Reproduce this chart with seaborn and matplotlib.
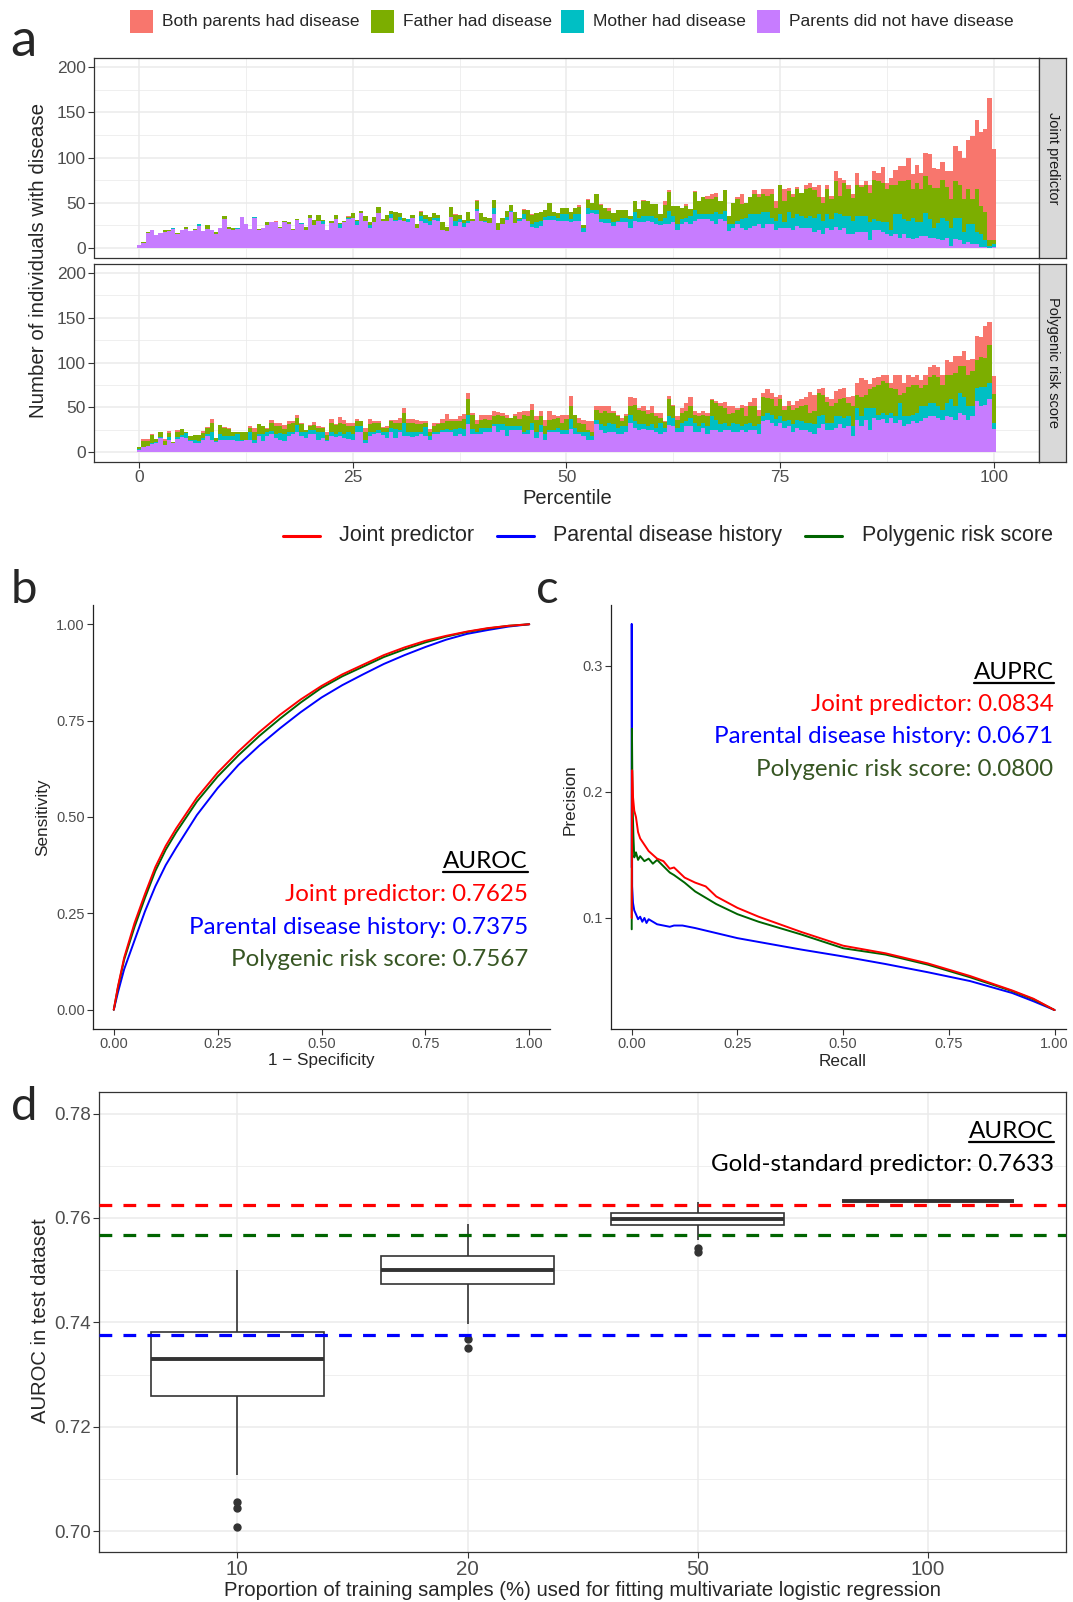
import numpy as np
import pandas as pd
import matplotlib
matplotlib.use("Agg")
import matplotlib.pyplot as plt
from matplotlib.lines import Line2D
from matplotlib.patches import Rectangle
import seaborn as sns

# ---------------- DATA ----------------
groups = ["Both parents had disease", "Father had disease", "Mother had disease", "Parents did not have disease"]
group_colors = ["#F8766D", "#7CAE00", "#00BFC4", "#C77CFF"]
facets = ["Joint predictor", "Polygenic risk score"]
pct_step = 0.5  # percentile bin width

jp_none = [3,5,16,20,14,16,17,18,21,15, 19,21,18,20,24,18,21,20,15,22, 32,21,20,21,34,26,21,33,20,22,
           25,28,28,22,28,26,20,31,26,20, 33,25,30,26,20,27,32,22,28,32, 33,25,38,30,22,28,38,29,29,33,
           29,31,30,28,33,22,30,27,25,31, 29,20,18,34,24,28,23,27,29,41, 30,28,27,37,19,26,31,39,27,29,
           32,30,23,22,24,31,31,31,30,30, 30,28,30,30,17,37,38,37,28,27, 27,24,28,28,28,22,29,28,28,30,
           28,26,25,26,26,28,20,26,28,26, 30,32,32,32,30,26,32,30,18,22, 26,22,20,22,24,26,22,26,26,20,
           22,22,22,20,24,22,22,22,17,20, 15,22,20,23,19,22,15,15,17,17, 17,8,19,19,17,15,13,15,11,15,
           11,9,11,13,13,11,11,9,8,11, 2,9,8,4,6,4,4,1,1,0, 1]
jp_mother = [0,0,0,0,0,0,0,0,1,0, 0,0,0,0,2,0,0,0,0,0, 0,0,0,1,0,0,0,1,0,0,
             0,0,0,0,0,0,0,0,1,0, 0,0,0,4,0,0,0,4,0,1, 0,5,0,0,3,0,0,0,1,4,
             2,3,0,4,0,0,5,5,5,2, 4,0,0,0,5,4,4,3,1,2, 0,2,0,7,0,0,3,2,0,3,
             5,0,3,6,6,3,4,4,3,7, 7,4,7,7,5,7,4,5,4,5, 5,4,2,5,5,10,10,5,7,5,
             7,7,5,7,15,7,6,6,5,9, 12,5,5,5,7,13,5,11,8,4, 4,10,13,15,13,11,17,13,7,10,
             15,6,17,13,13,13,11,13,16,17, 15,15,12,15,18,13,20,15,18,18, 18,20,13,11,11,13,6,22,26,17,
             19,24,17,15,25,21,11,18,25,19, 20,24,25,13,20,22,13,14,7,2, 3]
jp_father = [0,1,1,0,0,0,2,1,0,1, 0,2,0,1,0,0,4,0,2,0, 3,2,2,0,0,0,0,0,1,0,
             3,0,0,1,2,2,1,1,0,3, 3,6,6,1,0,2,4,1,1,1, 5,1,3,5,3,6,7,3,6,4,
             9,4,3,0,3,4,5,4,4,5, 3,8,5,11,7,4,4,10,2,9, 8,4,6,9,8,7,7,6,12,1,
             5,12,10,10,10,8,14,5,5,7, 7,7,7,8,3,9,8,17,15,12, 9,10,12,9,9,3,13,10,17,17,
             13,15,7,14,21,11,20,12,13,8, 20,15,19,17,17,17,15,23,9,24, 24,16,17,19,22,19,20,18,26,14,
             32,24,24,23,28,26,32,31,31,19, 20,28,22,36,20,37,30,25,35,32, 35,33,43,44,44,37,51,33,37,42,
             45,32,44,37,42,38,44,39,42,37, 32,41,36,37,39,28,48,31,31,6, 4]
jp_both = [0,0,0,0,0,0,0,0,0,0, 0,0,0,0,0,0,0,0,0,0, 0,0,0,0,0,0,0,0,0,0,
           0,0,1,0,0,0,0,0,0,0, 0,0,0,0,0,0,0,0,0,1, 0,0,0,0,0,0,0,0,0,0,
           0,0,0,0,0,0,1,0,0,0, 0,0,0,0,1,0,0,0,0,1, 0,0,0,0,0,0,0,0,0,0,
           1,0,1,0,0,0,0,0,0,0, 0,0,0,2,0,1,0,0,1,0, 3,0,0,0,0,0,0,0,1,0,
           0,0,0,5,2,0,0,0,2,0, 1,0,0,3,5,5,0,0,0,0, 2,11,0,0,5,3,6,8,6,8,
           1,13,3,3,2,0,4,6,3,13, 6,5,3,11,20,3,5,5,13,2, 4,9,10,9,18,7,7,16,17,17,
           24,17,20,18,25,34,22,21,20,18, 31,39,38,46,54,70,77,82,93,158, 101]

prs_none = [2,6,7,9,10,16,8,14,10,15, 17,16,12,10,10,14,18,13,11,14, 13,13,13,12,12,14,14,10,18,12,
            18,20,16,14,12,18,20,22,18,16, 20,20,14,16,12,18,17,18,16,15, 13,22,22,10,18,20,21,19,16,23,
            16,22,18,18,17,18,20,18,14,20, 20,22,23,22,18,20,18,31,20,20, 20,22,23,29,23,25,18,25,25,25,
            20,20,25,16,23,14,22,22,23,20, 20,26,20,20,18,14,14,31,25,21, 22,22,20,20,22,33,27,25,26,25,
            25,22,20,22,30,29,22,23,29,29, 22,22,27,20,25,25,22,25,25,23, 23,25,23,25,25,20,35,36,33,29,
            33,27,29,23,27,25,25,22,20,27, 31,25,25,27,31,27,29,18,36,29, 36,25,38,36,37,33,38,33,36,29,
            31,35,33,35,38,40,40,38,36,40, 39,36,44,42,36,40,57,51,53,59, 26]
prs_mother = [1,0,0,1,1,1,0,3,0,2, 2,5,2,4,2,2,2,9,1,6, 5,5,5,8,2,0,8,4,2,8,
              4,4,4,7,8,4,3,8,4,6, 5,5,8,6,2,5,3,4,4,7, 7,7,7,4,5,3,4,3,6,4,
              10,3,15,5,5,4,2,10,4,2, 2,3,3,3,8,7,8,11,6,3, 7,5,4,2,8,6,11,4,4,4,
              3,5,8,7,7,6,3,3,4,5, 5,11,7,3,4,8,4,5,6,8, 11,9,7,9,7,8,8,6,5,4,
              6,5,12,5,10,9,5,10,6,9, 11,7,6,9,15,11,9,8,4,10, 8,4,8,8,4,11,5,8,9,8,
              7,8,7,8,9,10,8,10,11,13, 11,8,8,13,9,11,11,11,13,11, 13,24,11,6,7,9,6,7,19,11,
              9,7,11,16,13,15,15,13,11,15, 20,15,22,20,15,11,15,22,20,18, 7]
prs_father = [3,6,5,9,4,5,4,4,1,6, 7,1,4,5,7,5,7,11,4,10, 9,8,4,3,8,9,5,9,11,9,
              4,9,9,8,6,9,10,8,9,3, 4,5,5,5,5,10,10,11,11,7, 9,6,6,8,8,9,8,5,5,8,
              7,8,11,10,11,9,9,4,5,7, 9,8,9,10,9,8,11,17,16,8, 9,10,9,9,10,9,9,9,11,8,
              19,15,14,13,10,9,11,12,11,8, 12,15,15,10,9,3,4,11,13,17, 11,13,13,6,11,11,18,16,15,14,
              13,13,6,7,19,13,9,11,11,13, 9,11,9,11,18,19,20,16,14,11, 16,20,9,18,22,9,22,16,17,14,
              19,12,15,16,13,16,20,12,15,26, 22,23,18,15,19,22,15,22,15,22, 15,21,24,33,35,35,28,30,9,26,
              33,33,31,21,24,29,31,33,28,31, 27,37,30,34,35,39,31,33,32,42, 32]
prs_both = [0,3,3,1,0,1,3,3,0,2, 0,0,0,0,0,3,1,4,0,0, 1,1,0,0,0,0,2,4,0,0,
            1,3,4,3,4,4,2,4,1,0, 1,4,2,1,4,4,1,6,5,4, 4,2,0,5,6,3,2,1,2,1,
            3,5,5,4,4,5,4,3,3,3, 2,4,8,2,2,5,6,7,2,5, 6,5,6,6,4,4,3,0,3,8,
            4,6,7,4,6,7,10,5,2,8, 4,11,0,5,5,10,13,4,7,5, 7,2,2,3,3,10,7,2,5,4,
            7,4,6,1,4,2,4,5,9,10, 4,4,4,4,1,2,4,7,8,7, 2,4,11,5,9,7,4,10,7,11,
            5,4,6,6,8,8,9,23,18,5, 8,6,8,13,11,12,7,12,13,21, 17,6,10,9,7,9,5,16,22,11,
            13,9,11,9,11,11,11,11,11,17, 15,19,11,17,17,14,27,22,36,26, 20]

# ROC curves (1 - specificity, sensitivity)
models = ["Joint predictor", "Parental disease history", "Polygenic risk score"]
model_colors = ["#FF0000", "#0000FF", "#006400"]
text_colors = ["#FF0000", "#0000FF", "#375623"]
auroc_values = ["0.7625", "0.7375", "0.7567"]
auprc_values = ["0.0834", "0.0671", "0.0800"]
roc_fpr = [0, .01, .025, .05, .075, .1, .125, .15, .2, .25, .3, .35, .4, .45, .5, .55, .6, .65, .7, .75,
           .8, .85, .9, .95, 1]
roc_tpr_joint = [0, .06, .135, .225, .30, .37, .425, .47, .55, .615, .67, .72, .765, .805, .84, .87, .895,
                 .92, .94, .957, .97, .981, .99, .996, 1]
roc_tpr_parent = [0, .045, .105, .18, .255, .32, .375, .42, .505, .575, .635, .685, .73, .772, .81, .842, .87,
                  .897, .92, .941, .96, .975, .985, .994, 1]
roc_tpr_prs = [0, .057, .13, .215, .29, .36, .415, .46, .54, .605, .66, .71, .755, .797, .835, .865, .89,
               .915, .935, .953, .968, .98, .989, .996, 1]

# Precision-recall curves
pr_recall_joint = [0, 0.001, 0.003, 0.006, 0.01, 0.015, 0.02, 0.03, 0.04, 0.05, 0.06, 0.075, 0.09, 0.1,
                   0.125, 0.15, 0.175, 0.2, 0.25, 0.3, 0.35, 0.4, 0.5, 0.6, 0.7, 0.8, 0.9, 0.95, 1.0]
pr_prec_joint = [0.100, 0.217, 0.196, 0.185, 0.180, 0.168, 0.163, 0.158, 0.153, 0.150, 0.147, 0.145, 0.139,
                 0.140, 0.132, 0.128, 0.125, 0.117, 0.108, 0.101, 0.095, 0.089, 0.078, 0.072, 0.064, 0.054,
                 0.0425, 0.036, 0.027]
pr_recall_parent = [0, 0, 0.001, 0.003, 0.006, 0.01, 0.015, 0.02, 0.025, 0.03, 0.035, 0.04, 0.05, 0.06, 0.075,
                    0.09, 0.1, 0.12, 0.15, 0.2, 0.25, 0.3, 0.4, 0.5, 0.6, 0.7, 0.8, 0.9, 0.95, 1.0]
pr_prec_parent = [0.14, 0.333, 0.125, 0.112, 0.106, 0.103, 0.099, 0.101, 0.097, 0.100, 0.096, 0.099, 0.097,
                  0.095, 0.094, 0.093, 0.094, 0.094, 0.092, 0.088, 0.084, 0.081, 0.075, 0.0695, 0.0635, 0.057,
                  0.050, 0.0405, 0.034, 0.027]
pr_recall_prs = [0, 0.0005, 0.002, 0.004, 0.006, 0.01, 0.015, 0.02, 0.03, 0.04, 0.05, 0.06, 0.075, 0.09, 0.1,
                 0.125, 0.15, 0.175, 0.2, 0.25, 0.3, 0.35, 0.4, 0.5, 0.6, 0.7, 0.8, 0.9, 0.95, 1.0]
pr_prec_prs = [0.091, 0.250, 0.190, 0.165, 0.148, 0.152, 0.146, 0.149, 0.145, 0.147, 0.143, 0.146, 0.141,
               0.136, 0.134, 0.128, 0.121, 0.116, 0.111, 0.103, 0.097, 0.092, 0.087, 0.076, 0.071, 0.063,
               0.053, 0.042, 0.0355, 0.027]

# Panel d: AUROC over repeated subsamples
prop_labels = ["10", "20", "50", "100"]
auroc_10 = [0.7008, 0.7045, 0.7056, 0.7107, 0.7190, 0.7259, 0.7285, 0.7300, 0.7312, 0.7320, 0.7329,
            0.7340, 0.7352, 0.7365, 0.7374, 0.7381, 0.7400, 0.7425, 0.7450, 0.7478, 0.7500]
auroc_20 = [0.7350, 0.7368, 0.7397, 0.7440, 0.7460, 0.7473, 0.7482, 0.7489, 0.7494, 0.7497, 0.7500,
            0.7505, 0.7511, 0.7517, 0.7522, 0.7528, 0.7538, 0.7550, 0.7563, 0.7575, 0.7588]
auroc_50 = [0.7534, 0.7543, 0.7557, 0.7570, 0.7580, 0.7586, 0.7589, 0.7592, 0.7594, 0.7596, 0.7598,
            0.7600, 0.7603, 0.7605, 0.7608, 0.7610, 0.7614, 0.7618, 0.7622, 0.7626, 0.7631]
auroc_100 = [0.7633, 0.7633, 0.7633, 0.7633, 0.7633]
ref_auroc = [0.7625, 0.7375, 0.7567]  # joint, parental, PRS
gold_auroc = "0.7633"

# ---------------- FIGURE ----------------
sns.set_style("white")
plt.rcParams["font.family"] = ["Liberation Sans", "DejaVu Sans"]
W, H = 1073, 1602
fig = plt.figure(figsize=(W / 100, H / 100), dpi=100)

def add_ax(x0, y0, x1, y1):
    return fig.add_axes([x0 / W, 1 - y1 / H, (x1 - x0) / W, (y1 - y0) / H])

def ftext(x, y, s, **kw):
    return fig.text(x / W, 1 - y / H, s, **kw)

CAL = ["Lato", "DejaVu Sans"]

# ---- panel a ----
facet_data = {
    "Joint predictor": [jp_both, jp_father, jp_mother, jp_none],
    "Polygenic risk score": [prs_both, prs_father, prs_mother, prs_none],
}
boxes_a = [(94, 58, 1039, 257.5), (94, 263.5, 1039, 462)]
for k, fac in enumerate(facets):
    rows = []
    for g, vals in zip(groups, facet_data[fac]):
        for i, v in enumerate(vals):
            rows.append((i * pct_step, v, g))
    df = pd.DataFrame(rows, columns=["pct", "n", "group"])
    ax = add_ax(*boxes_a[k])
    sns.histplot(data=df, x="pct", weights="n", hue="group", hue_order=groups,
                 palette=dict(zip(groups, group_colors)), multiple="stack",
                 binwidth=pct_step, binrange=(-pct_step / 2, 100 + pct_step / 2),
                 linewidth=0, alpha=1, legend=False, antialiased=False, ax=ax)
    ax.set_xlim(-5.275, 105.275)
    ax.set_ylim(-11, 210.5)
    ax.set_xticks([0, 25, 50, 75, 100])
    ax.set_xticks([12.5, 37.5, 62.5, 87.5], minor=True)
    ax.set_yticks([0, 50, 100, 150, 200])
    ax.set_yticks([25, 75, 125, 175], minor=True)
    ax.set_axisbelow(True)
    ax.grid(True, which="major", color="#EBEBEB", lw=1.1)
    ax.grid(True, which="minor", color="#EBEBEB", lw=0.55)
    ax.tick_params(which="major", length=4, width=0.8, color="#333333", labelsize=12.5,
                   labelcolor="#4D4D4D", pad=2, left=True, bottom=(k == 1))
    ax.tick_params(which="minor", length=0)
    if k == 0:
        ax.set_xticklabels([])
    ax.set_xlabel("")
    ax.set_ylabel("")
    for s in ax.spines.values():
        s.set_visible(True)
        s.set_color("#333333")
        s.set_linewidth(0.9)
    sx = add_ax(1039, boxes_a[k][1], 1066, boxes_a[k][3])
    sx.set_facecolor("#D9D9D9")
    sx.set_xticks([]); sx.set_yticks([])
    for s in sx.spines.values():
        s.set_color("#333333"); s.set_linewidth(0.9)
    sx.text(0.5, 0.5, fac, rotation=270, ha="center", va="center", fontsize=10.5,
            color="#1A1A1A", transform=sx.transAxes)

ftext(39, 260, "Number of individuals with disease", rotation=90, ha="center", va="center", fontsize=14.8)
ftext(567, 499, "Percentile", ha="center", va="center", fontsize=14.5)

# top legend
leg_pos = [(130, 162.5), (371, 402.6), (561, 592.7), (757, 789)]
for (px, tx), g, c in zip(leg_pos, groups, group_colors):
    fig.patches.append(Rectangle((px / W, 1 - 33 / H), 23 / W, 23 / H, transform=fig.transFigure,
                                 facecolor=c, edgecolor="none"))
    ftext(tx, 21.5, g, ha="left", va="center", fontsize=12.5)

# middle legend
leg2 = [(283, 320, 339), (497, 533.5, 553), (805, 842, 861.5)]
for (x0, x1, tx), m, c in zip(leg2, models, model_colors):
    fig.add_artist(Line2D([x0 / W, x1 / W], [1 - 535.5 / H] * 2, transform=fig.transFigure, color=c, lw=2.2))
    ftext(tx, 535.5, m, ha="left", va="center", fontsize=15.5)

# panel labels
ftext(10, 56, "a", fontsize=38, family=CAL, va="baseline")
ftext(11, 603, "b", fontsize=34, family=CAL, va="baseline")
ftext(536, 603, "c", fontsize=34, family=CAL, va="baseline")
ftext(11, 1120, "d", fontsize=34, family=CAL, va="baseline")

def classic(ax):
    for s in ["top", "right"]:
        ax.spines[s].set_visible(False)
    for s in ["left", "bottom"]:
        ax.spines[s].set_color("#222222"); ax.spines[s].set_linewidth(0.9)
    ax.tick_params(length=4, width=0.8, color="#333333", labelsize=10.5, labelcolor="#4D4D4D", pad=2,
                   left=True, bottom=True)
    ax.set_xlabel(""); ax.set_ylabel("")
    ax.grid(False)

# ---- panel b ----
roc_rows = []
for m, tp in zip(models, [roc_tpr_joint, roc_tpr_parent, roc_tpr_prs]):
    for f, t in zip(roc_fpr, tp):
        roc_rows.append((f, t, m))
roc_df = pd.DataFrame(roc_rows, columns=["fpr", "tpr", "model"])
axb = add_ax(93, 605, 550, 1029)
sns.lineplot(data=roc_df, x="fpr", y="tpr", hue="model", hue_order=[models[1], models[2], models[0]],
             palette=dict(zip(models, model_colors)), sort=False, estimator=None, legend=False, lw=1.4, ax=axb)
axb.set_xlim(-0.05, 1.05); axb.set_ylim(-0.05, 1.05)
ticks = [0, 0.25, 0.5, 0.75, 1.0]
axb.set_xticks(ticks); axb.set_xticklabels([f"{t:.2f}" for t in ticks])
axb.set_yticks(ticks); axb.set_yticklabels([f"{t:.2f}" for t in ticks])
classic(axb)
ftext(43, 817, "Sensitivity", rotation=90, ha="center", va="center", fontsize=12.3)
ftext(321, 1061, "1 \u2212 Specificity", ha="center", va="center", fontsize=12.3)

# ---- panel c ----
pr_rows = []
for m, rc, pc in zip(models, [pr_recall_joint, pr_recall_parent, pr_recall_prs],
                     [pr_prec_joint, pr_prec_parent, pr_prec_prs]):
    for r, p in zip(rc, pc):
        pr_rows.append((r, p, m))
pr_df = pd.DataFrame(pr_rows, columns=["recall", "precision", "model"])
axc = add_ax(611, 605, 1066, 1029)
sns.lineplot(data=pr_df, x="recall", y="precision", hue="model", hue_order=[models[1], models[2], models[0]],
             palette=dict(zip(models, model_colors)), sort=False, estimator=None, legend=False, lw=1.4, ax=axc)
axc.set_xlim(-0.049, 1.027); axc.set_ylim(0.012, 0.348)
axc.set_xticks(ticks); axc.set_xticklabels([f"{t:.2f}" for t in ticks])
axc.set_yticks([0.1, 0.2, 0.3]); axc.set_yticklabels(["0.1", "0.2", "0.3"])
classic(axc)
ftext(570, 800, "Precision", rotation=90, ha="center", va="center", fontsize=12.3)
ftext(843, 1061, "Recall", ha="center", va="center", fontsize=12.3)

# ---- panel d ----
d_rows = []
for lab, vals in zip(prop_labels, [auroc_10, auroc_20, auroc_50, auroc_100]):
    for v in vals:
        d_rows.append((lab, v))
d_df = pd.DataFrame(d_rows, columns=["prop", "auroc"])
axd = add_ax(99.3, 1091.7, 1066, 1552)
sns.boxplot(data=d_df, x="prop", y="auroc", order=prop_labels, width=0.75, color="white",
            linecolor="#333333", linewidth=1.2, showcaps=False,
            flierprops=dict(marker="o", markersize=5, markerfacecolor="#333333", markeredgecolor="#333333"),
            medianprops=dict(linewidth=2.8, color="#333333"), ax=axd)
for v, c in zip(ref_auroc, model_colors):
    axd.axhline(v, color=c, lw=2.3, ls=(0, (4, 3.5)), zorder=5)
axd.set_xlim(-0.6, 3.6); axd.set_ylim(0.696, 0.7842)
axd.set_yticks([0.70, 0.72, 0.74, 0.76, 0.78]); axd.set_yticklabels(["0.70", "0.72", "0.74", "0.76", "0.78"])
axd.set_yticks([0.71, 0.73, 0.75, 0.77], minor=True)
axd.set_axisbelow(True)
axd.grid(True, which="major", color="#EBEBEB", lw=1.1)
axd.grid(True, which="minor", axis="y", color="#EBEBEB", lw=0.55)
axd.tick_params(which="major", length=4, width=0.8, color="#333333", labelcolor="#4D4D4D",
                pad=2, left=True, bottom=True)
axd.tick_params(axis="y", labelsize=13.5)
axd.tick_params(axis="x", labelsize=14.8)
axd.tick_params(which="minor", length=0)
axd.set_xlabel(""); axd.set_ylabel("")
for s in axd.spines.values():
    s.set_visible(True); s.set_color("#333333"); s.set_linewidth(0.9)
ftext(41, 1321, "AUROC in test dataset", rotation=90, ha="center", va="center", fontsize=14.6)
ftext(583, 1590, "Proportion of training samples (%) used for fitting multivariate logistic regression",
      ha="center", va="center", fontsize=14.6)

# ---- annotation texts ----
FS = 17.4
def block(xr, base_title, title, bases, labels, vals, colors):
    t = ftext(xr, base_title, title, ha="right", va="baseline", fontsize=FS, family=CAL, color="black")
    for b, l, v, c in zip(bases, labels, vals, colors):
        ftext(xr, b, f"{l}: {v}", ha="right", va="baseline", fontsize=FS, family=CAL, color=c)
    return t

titles = []
titles.append((block(528, 867.6, "AUROC", [900.8, 933.5, 966.2], models, auroc_values, text_colors), 871.5))
titles.append((block(1053.6, 679, "AUPRC", [710.7, 743.4, 776], models, auprc_values, text_colors), 683))
titles.append((block(1053.6, 1138, "AUROC", [1170.6], ["Gold-standard predictor"], [gold_auroc], ["black"]), 1142))

fig.canvas.draw()
rend = fig.canvas.get_renderer()
for t, uy in titles:
    bb = t.get_window_extent(rend)
    fig.add_artist(Line2D([bb.x0 / W, bb.x1 / W], [1 - uy / H] * 2, transform=fig.transFigure,
                          color="black", lw=1.6))

fig.savefig("out.png", dpi=100)
